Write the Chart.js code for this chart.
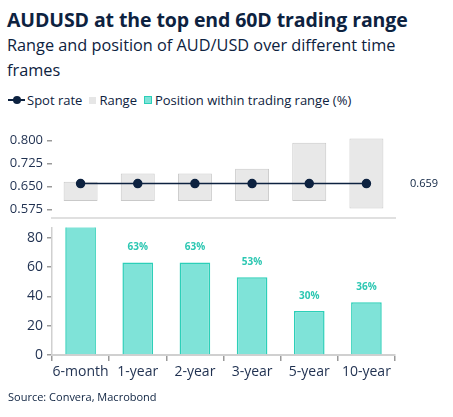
<!DOCTYPE html>
<html>
<head>
<meta charset="utf-8">
<script src="https://cdn.jsdelivr.net/npm/chart.js@4/dist/chart.umd.min.js"></script>
<style>
  body { margin: 0; width: 453px; height: 417px; background: #fff; font-family: "Open Sans", sans-serif; color: #0d2240; position: relative; overflow: hidden; }
  .title { position: absolute; left: 7px; top: 6px; font-size: 19.5px; font-weight: 700; white-space: nowrap; letter-spacing: -0.1px; }
  .sub { position: absolute; left: 7px; top: 33px; width: 420px; font-size: 16.3px; line-height: 25px; }
  .legend { position: absolute; left: 8px; top: 91px; font-size: 13px; white-space: nowrap; display: flex; align-items: center; }
  .legend span { display: inline-flex; align-items: center; margin-right: 7px; }
  .mk-line { width: 17px; height: 2px; background: #0d2240; position: relative; margin-right: 2px; }
  .mk-line::after { content: ""; position: absolute; left: 5px; top: -3px; width: 8px; height: 8px; border-radius: 50%; background: #0d2240; }
  .mk-sq { width: 7px; height: 7px; margin-right: 3px; }
  .src { position: absolute; left: 8px; top: 389px; font-size: 11px; }
  canvas { position: absolute; left: 0; }
</style>
</head>
<body>
<div class="title">AUDUSD at the top end 60D trading range</div>
<div class="sub">Range and position of AUD/USD over different time frames</div>
<div class="legend">
  <span><i class="mk-line"></i>Spot rate</span>
  <span><i class="mk-sq" style="background:#e6e6e6"></i>Range</span>
  <span><i class="mk-sq" style="background:#7fe3d8;border:1px solid #2ccfb8;width:6px;height:6px"></i>Position within trading range (%)</span>
</div>
<div style="position:absolute;left:0;top:120px;width:453px;height:110px"><canvas id="top"></canvas></div>
<div style="position:absolute;left:0;top:215px;width:453px;height:167px"><canvas id="bottom"></canvas></div>
<div class="src">Source: Convera, Macrobond</div>
<script>
const categories = ["6-month", "1-year", "2-year", "3-year", "5-year", "10-year"];
const rangeLow = [0.602, 0.602, 0.602, 0.602, 0.602, 0.578];
const rangeHigh = [0.665, 0.692, 0.692, 0.707, 0.792, 0.806];
const spotRate = [0.659, 0.659, 0.659, 0.659, 0.659, 0.659];
const position = [91, 63, 63, 53, 30, 36];
const topTicks = [0.575, 0.6, 0.625, 0.65, 0.675, 0.7, 0.725, 0.75, 0.775, 0.8, 0.825];
const topLabels = [0.575, 0.65, 0.725, 0.8];
const bottomTicks = [0, 10, 20, 30, 40, 50, 60, 70, 80];
const bottomLabels = [0, 20, 40, 60, 80];

const ink = "#0d2240";
const tickInk = "#1f3050";
const fixWidth = (s) => { s.width = 52; };

// right hand value tag for the spot line
const spotTag = {
  id: "spotTag",
  afterDatasetsDraw(chart) {
    const { ctx, chartArea, scales } = chart;
    const v = spotRate[spotRate.length - 1];
    ctx.save();
    ctx.font = "11px 'Open Sans'";
    ctx.fillStyle = ink;
    ctx.textBaseline = "middle";
    ctx.fillText(v.toFixed(3), chartArea.right + 15, scales.y.getPixelForValue(v));
    ctx.restore();
  }
};

// percent labels over the bars, dropped when out of the plot
const barTags = {
  id: "barTags",
  afterDatasetsDraw(chart) {
    const { ctx, chartArea } = chart;
    const meta = chart.getDatasetMeta(0);
    ctx.save();
    ctx.font = "bold 10px 'Open Sans'";
    ctx.fillStyle = "#2cc7b2";
    ctx.textAlign = "center";
    ctx.textBaseline = "middle";
    meta.data.forEach((bar, i) => {
      const y = bar.y - 15;
      if (y < chartArea.top) return;
      ctx.fillText(position[i] + "%", bar.x, y);
    });
    ctx.restore();
  }
};

new Chart(document.getElementById("top"), {
  type: "bar",
  data: {
    labels: categories,
    datasets: [
      {
        type: "line",
        data: spotRate,
        borderColor: ink,
        backgroundColor: ink,
        borderWidth: 1.5,
        pointRadius: 4,
        pointHoverRadius: 4,
        order: 0,
      },
      {
        data: rangeLow.map((lo, i) => [lo, rangeHigh[i]]),
        backgroundColor: "#e8e8e8",
        borderColor: "#c9c9c9",
        borderWidth: 1,
        borderSkipped: false,
        barPercentage: 0.594,
        categoryPercentage: 1,
        order: 1,
      },
    ],
  },
  options: {
    responsive: true,
    maintainAspectRatio: false,
    animation: false,
    layout: { padding: { left: 0, right: 58, top: 8, bottom: 9 } },
    plugins: { legend: { display: false }, tooltip: { enabled: false } },
    scales: {
      x: {
        ticks: { display: false },
        grid: { display: false },
        border: { display: true, color: "#e0e0e0", width: 2 },
        afterFit: (s) => { s.height = 0; },
      },
      y: {
        min: 0.546,
        max: 0.828,
        afterBuildTicks: (s) => { s.ticks = topTicks.map((v) => ({ value: v })); },
        afterFit: fixWidth,
        ticks: {
          color: tickInk,
          font: { family: "Open Sans", size: 13 },
          padding: 4,
          callback: (v) => (topLabels.some((l) => Math.abs(l - v) < 1e-6) ? v.toFixed(3) : ""),
        },
        grid: { drawOnChartArea: false, tickLength: 5, color: "#9a9a9a", lineWidth: 1.5 },
        border: { display: false },
      },
    },
  },
  plugins: [spotTag],
});

new Chart(document.getElementById("bottom"), {
  type: "bar",
  data: {
    labels: categories,
    datasets: [
      {
        data: position,
        backgroundColor: "#7fe3d8",
        borderColor: "#2ccfb8",
        borderWidth: 1.5,
        barPercentage: 0.536,
        categoryPercentage: 1,
      },
    ],
  },
  options: {
    responsive: true,
    maintainAspectRatio: false,
    animation: false,
    layout: { padding: { left: 0, right: 58, top: 4, bottom: 0 } },
    plugins: { legend: { display: false }, tooltip: { enabled: false } },
    scales: {
      x: {
        afterFit: (s) => { s.height = 27; },
        ticks: { color: tickInk, font: { family: "Open Sans", size: 14 }, padding: 3, maxRotation: 0, minRotation: 0, autoSkip: false },
        grid: { drawOnChartArea: false, offset: true, tickLength: 6, color: "#9a9a9a", lineWidth: 1.5 },
        border: { color: "#d0d0d0", width: 2 },
      },
      y: {
        min: 0,
        max: 87,
        afterBuildTicks: (s) => { s.ticks = bottomTicks.map((v) => ({ value: v })); },
        afterFit: fixWidth,
        ticks: {
          color: tickInk,
          font: { family: "Open Sans", size: 14 },
          padding: 4,
          callback: (v) => (bottomLabels.includes(v) ? v : ""),
        },
        grid: { drawOnChartArea: false, tickLength: 5, color: "#9a9a9a", lineWidth: 1.5 },
        border: { color: "#d0d0d0", width: 1.5 },
      },
    },
  },
  plugins: [barTags],
});
</script>
</body>
</html>
